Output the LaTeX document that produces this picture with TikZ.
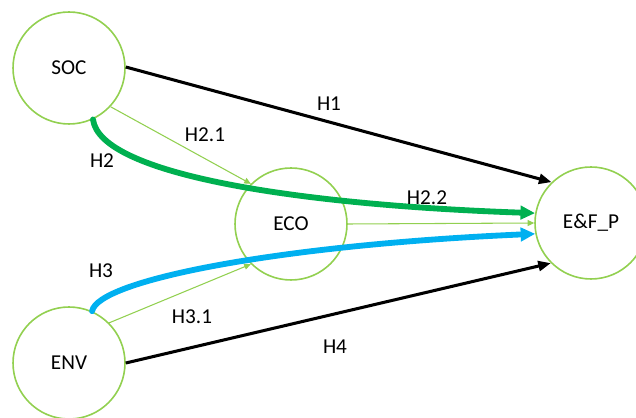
\documentclass[tikz,border=0pt]{standalone}
\usepackage{fontspec}
\setmainfont{Carlito}
\usetikzlibrary{arrows.meta}
\definecolor{ringgreen}{HTML}{92D050}
\definecolor{thickgreen}{HTML}{00B050}
\definecolor{thickblue}{HTML}{00B0F0}
\tikzset{
  construct/.style={circle, draw=ringgreen, line width=1.2pt, minimum size=2.968cm, inner sep=0pt, font=\fontsize{16}{19}\selectfont},
  blackarrow/.style={line width=2.3pt, black, -{Triangle[length=9.5pt,width=7.5pt]}},
  thinarrow/.style={line width=0.8pt, ringgreen, -{Triangle[length=5pt,width=4.5pt]}},
  greenarrow/.style={line width=4.4pt, thickgreen, line cap=round, -{Triangle[length=11pt,width=10pt]}},
  bluearrow/.style={line width=4.4pt, thickblue, line cap=round, -{Triangle[length=11pt,width=10pt]}},
  hlabel/.style={font=\fontsize{16}{19}\selectfont, inner sep=0pt}
}
\begin{document}
\begin{tikzpicture}[x=0.0265cm, y=-0.0265cm]
\useasboundingbox (0,0) rectangle (636,418);
\clip (0,0) rectangle (636,418);
\node[construct] (soc) at (69,68) {SOC};
\node[construct] (env) at (69,363) {ENV};
\node[construct] (eco) at (291,224) {ECO};
\node[construct] (efp) at (591,223) {E\&F\_P};

\draw[blackarrow] (soc.1) -- (efp.134);
\draw[blackarrow] (env.east) -- (efp.225);
\draw[thinarrow] (soc.-43) -- (eco.135);
\draw[thinarrow] (env.45) -- (eco.225);
\draw[thinarrow] (eco.east) -- (efp.west);
\draw[greenarrow] (soc.-65) .. controls (100,175) and (300,205) .. (efp.170);
\draw[bluearrow] (env.66) .. controls (98,280) and (280,245) .. (efp.191);

\node[hlabel] (h1) at (329,104) {H1};
\node[hlabel] (h21) at (205,135) {H2.1};
\node[hlabel] (h2) at (102,161) {H2};
\node[hlabel] (h22) at (427,198) {H2.2};
\node[hlabel] (h3) at (101,271) {H3};
\node[hlabel] (h31) at (192,317) {H3.1};
\node[hlabel] (h4) at (335,347) {H4};
\end{tikzpicture}
\end{document}
